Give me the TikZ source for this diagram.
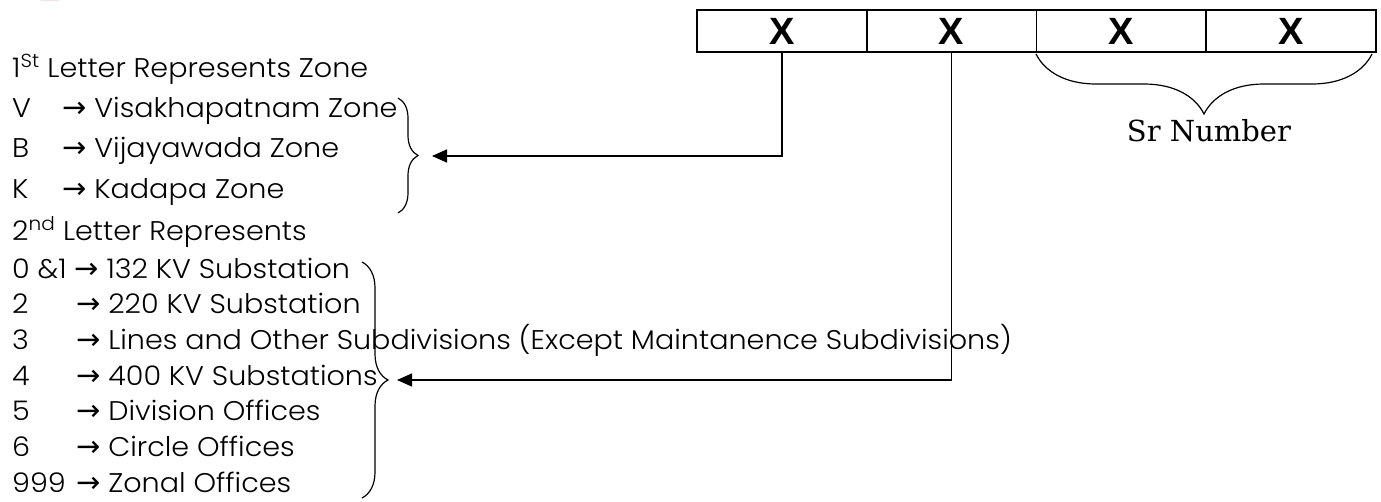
\documentclass[tikz,border=0pt]{standalone}
\usepackage{fontspec}
\setmainfont{Poppins}[UprightFont=* Light, FakeStretch=1.06]
\newfontfamily\boxfont{Liberation Sans}
\newfontfamily\serialfont{DejaVu Serif}
\newfontfamily\symfont{DejaVu Sans}
\usetikzlibrary{arrows.meta,decorations.pathreplacing}
\newcommand{\ra}{{\symfont\fontsize{29}{30}\selectfont →}}

\begin{document}
\begin{tikzpicture}[x=1pt, y=-1pt,
  cell/.style = {draw, line width=1.5pt, minimum width=169.75pt,
    minimum height=42pt, inner sep=0pt,
    font=\boxfont\bfseries\fontsize{38}{38}\selectfont},
  row/.style = {anchor=base west, inner sep=0pt,
    font=\fontsize{27}{30}\selectfont},
  link/.style = {line width=1.6pt, -{Triangle[length=15pt,width=13pt]}},
  curly/.style = {line width=1.2pt, decorate,
    decoration={brace, amplitude=#1}}]
  \useasboundingbox (0,0) rectangle (1381,501);
  \fill[red!85!black] (41,0) arc[start angle=180, end angle=360,
    x radius=9, y radius=4] -- cycle;

  % code boxes
  \node[cell] (c1) at (781.9,31) {X};
  \node[cell] (c2) at (951.6,31) {X};
  \node[cell] (c3) at (1121.4,31) {X};
  \node[cell] (c4) at (1291.1,31) {X};

  % first letter
  \node[row] (h1) at (12,77) {1\textsuperscript{St} Letter Represents Zone};
  \node[row] (zv) at (12,117) {\makebox[50pt][l]{V}\ra\ Visakhapatnam Zone};
  \node[row] (zb) at (12,157) {\makebox[50pt][l]{B}\ra\ Vijayawada Zone};
  \node[row] (zk) at (12,198) {\makebox[50pt][l]{K}\ra\ Kadapa Zone};

  % second letter
  \node[row] (h2) at (12,240) {2\textsuperscript{nd} Letter Represents};
  \node[row] (s0) at (12,278) {0 \&1 \ra\ 132 KV Substation};
  \node[row] (s2) at (12,313.7) {\makebox[64pt][l]{2}\ra\ 220 KV Substation};
  \node[row] (s3) at (12,349.3) {\makebox[64pt][l]{3}\ra\ Lines and Other Subdivisions (Except Maintanence Subdivisions)};
  \node[row] (s4) at (12,385) {\makebox[64pt][l]{4}\ra\ 400 KV Substations};
  \node[row] (s5) at (12,420.7) {\makebox[64pt][l]{5}\ra\ Division Offices};
  \node[row] (s6) at (12,456.3) {\makebox[64pt][l]{6}\ra\ Circle Offices};
  \node[row] (s9) at (12,492) {\makebox[64pt][l]{999}\ra\ Zonal Offices};

  % braces
  \draw[curly=20] (398,98) -- (398,213);
  \draw[curly=26] (362,262) -- (362,498);
  \draw[curly=60] (1372,54) -- (1036,54);

  \coordinate (zt) at (432,156);
  \coordinate (st) at (397,380);
  \node[font=\serialfont\fontsize{29}{30}\selectfont, anchor=base]
    (srn) at (1209,141) {Sr Number};

  % connectors
  \draw[link] (c1.south) |- (zt);
  \draw[link] (c2.south) |- (st);
\end{tikzpicture}
\end{document}
